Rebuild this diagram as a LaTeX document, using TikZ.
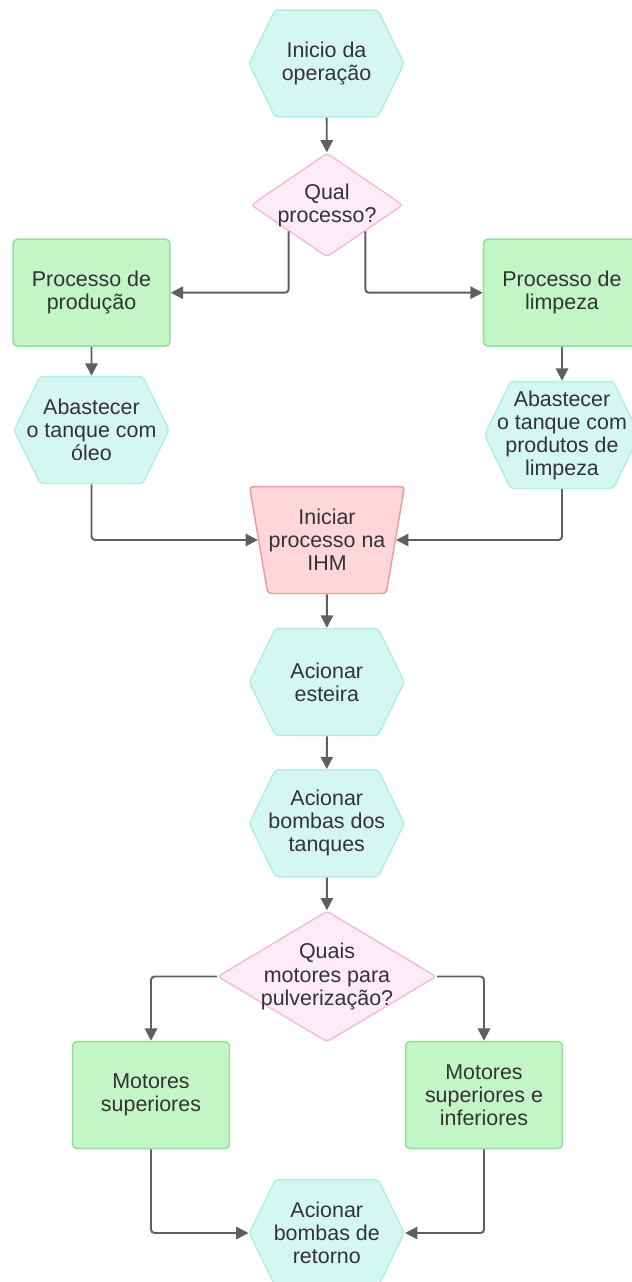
\documentclass[tikz,border=0pt]{standalone}
\usepackage{fontspec}
\setmainfont{Liberation Sans}
\usetikzlibrary{shapes.geometric,shapes.symbols,arrows.meta}
\definecolor{hexfill}{HTML}{D5F7F2}
\definecolor{hexline}{HTML}{B2EEE6}
\definecolor{procfill}{HTML}{C3F5C6}
\definecolor{procline}{HTML}{8FE299}
\definecolor{decfill}{HTML}{FDEBF7}
\definecolor{decline}{HTML}{F7BDD6}
\definecolor{ihmfill}{HTML}{FFD7DA}
\definecolor{ihmline}{HTML}{F39A9E}
\definecolor{setacor}{HTML}{5F5F5F}
\definecolor{txt}{HTML}{333333}
\tikzset{
  base/.style={font=\fontsize{12.2}{13.1}\selectfont, text=txt, align=center, line width=0.85pt},
  hexa/.style={base, signal, signal to=east and west, signal pointer angle=128,
    minimum width=3.1cm, minimum height=2.14cm, inner xsep=-0.3cm,
    fill=hexfill, draw=hexline, rounded corners=2pt},
  proc/.style={base, rectangle, rounded corners=2.5pt, minimum width=3.14cm,
    minimum height=2.14cm, fill=procfill, draw=procline},
  decis/.style={base, diamond, inner sep=-0.12cm, fill=decfill, draw=decline, rounded corners=2pt},
  iniciar/.style={base, trapezium, shape border rotate=180, trapezium left angle=76,
    trapezium right angle=76, trapezium stretches body, minimum width=3.1cm,
    minimum height=2.14cm, inner xsep=-0.3cm, fill=ihmfill, draw=ihmline, rounded corners=2pt},
  seta/.style={draw=setacor, line width=1.1pt, -{Triangle[length=7pt,width=7pt]}, rounded corners=2pt}
}
\begin{document}
\begin{tikzpicture}[x=0.02cm,y=-0.02cm]
\useasboundingbox (0,0) rectangle (632,1282);

\node[hexa] (inicio) at (326.5,63.5) {Inicio da\\operação};
\node[decis, aspect=1.46, minimum width=3.04cm, minimum height=2.08cm] (qual) at (327,205) {Qual\\processo?};
\node[proc] (prod) at (91.5,292.7) {Processo de\\produção};
\node[proc] (limp) at (562,292.7) {Processo de\\limpeza};
\node[hexa] (oleo) at (91.5,430) {Abastecer\\o tanque com\\óleo};
\node[hexa] (prodlimp) at (562,435) {Abastecer\\o tanque com\\produtos de\\limpeza};
\node[iniciar] (ihm) at (327,540) {Iniciar\\processo na\\IHM};
\node[hexa] (esteira) at (326.8,682) {Acionar\\esteira};
\node[hexa] (bombas) at (326.8,823.3) {Acionar\\bombas dos\\tanques};
\node[decis, aspect=1.67, minimum width=4.38cm, minimum height=2.62cm] (motores) at (327,976.5) {Quais\\motores para\\pulverização?};
\node[proc] (sup) at (151,1095) {Motores\\superiores};
\node[proc] (supinf) at (484,1095) {Motores\\superiores e\\inferiores};
\node[hexa] (retorno) at (326.8,1233) {Acionar\\bombas de\\retorno};

\draw[seta] (inicio) -- (qual);
\draw[seta] (qual.south west) |- (prod);
\draw[seta] (qual.south east) |- (limp);
\draw[seta] (prod) -- (oleo);
\draw[seta] (limp) -- (prodlimp);
\draw[seta] (oleo) |- (ihm);
\draw[seta] (prodlimp) |- (ihm);
\draw[seta] (ihm) -- (esteira);
\draw[seta] (esteira) -- (bombas);
\draw[seta] (bombas) -- (motores);
\draw[seta] (motores) -| (sup);
\draw[seta] (motores) -| (supinf);
\draw[seta] (sup) |- (retorno);
\draw[seta] (supinf) |- (retorno);
\end{tikzpicture}
\end{document}
